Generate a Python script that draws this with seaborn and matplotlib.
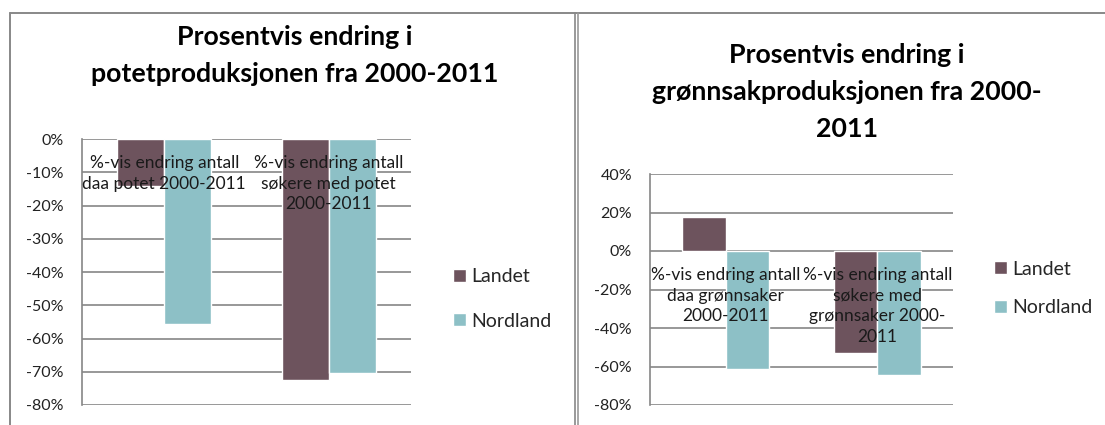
import matplotlib
matplotlib.use("Agg")
import matplotlib.pyplot as plt
import matplotlib.transforms as mtransforms
from matplotlib.lines import Line2D
from matplotlib.ticker import FuncFormatter
import pandas as pd
import seaborn as sns

# ---- data ----
series = ["Landet", "Nordland"]
pot_categories = ["%-vis endring antall\ndaa potet 2000-2011",
                  "%-vis endring antall\nsøkere med potet\n2000-2011"]
pot_landet = [-14, -72.5]
pot_nordland = [-55.5, -70.5]

gr_categories = ["%-vis endring antall\ndaa grønnsaker\n2000-2011",
                 "%-vis endring antall\nsøkere med\ngrønnsaker 2000-\n2011"]
gr_landet = [17.7, -52.8]
gr_nordland = [-61.5, -64.2]

pot_title = ["Prosentvis endring i", "potetproduksjonen fra 2000-2011"]
gr_title = ["Prosentvis endring i", "grønnsakproduksjonen fra 2000-", "2011"]

pot_ticks = [0, -10, -20, -30, -40, -50, -60, -70, -80]
gr_ticks = [40, 20, 0, -20, -40, -60, -80]

colors = ["#6D535D", "#8DC0C6"]

sns.set_theme(style="white")
plt.rcParams["font.family"] = ["Lato", "DejaVu Sans"]

W, H = 1105, 425
fig = plt.figure(figsize=(W / 100, H / 100), dpi=100)
fig.patch.set_facecolor("white")

GRID = "#868686"


def fx(px):
    return px / W


def fy(py):
    return 1 - py / H


def make_panel(rect, cats, landet, nordland, ticks, lims, title_lines, title_x,
               title_baselines, legend_xy, legend_spacing):
    ax = fig.add_axes(rect)
    df = pd.DataFrame({
        "cat": cats + cats,
        "val": landet + nordland,
        "series": [series[0]] * len(cats) + [series[1]] * len(cats),
    })
    sns.barplot(data=df, x="cat", y="val", hue="series", hue_order=series,
                order=cats, palette=colors, width=0.573, gap=0, ax=ax,
                saturation=1, errorbar=None, legend=True)
    ax.set_xlim(-0.5, len(cats) - 0.5)
    ax.set_ylim(*lims)
    ax.set_yticks(ticks)
    ax.yaxis.set_major_formatter(FuncFormatter(lambda v, p: f"{int(round(v))}%"))
    ax.set_xticks([])
    ax.set_xlabel("")
    ax.set_ylabel("")
    ax.set_axisbelow(True)
    ax.yaxis.grid(True, color=GRID, lw=1.2)
    ax.tick_params(axis="y", length=0, pad=13, labelsize=11.5, labelcolor="#222222")
    for s in ["right", "top", "bottom"]:
        ax.spines[s].set_visible(False)
    ax.spines["left"].set_color(GRID)
    ax.spines["left"].set_linewidth(1.2)
    ax.set_facecolor("none")
    # category labels placed just below the zero line
    off = mtransforms.ScaledTranslation(0, -0.16, fig.dpi_scale_trans)
    for i, c in enumerate(cats):
        ax.text(i, 0, c, ha="center", va="top", fontsize=12.5, color="#1a1a1a",
                linespacing=1.36, transform=ax.transData + off, zorder=5)
    # legend
    handles, labels = ax.get_legend_handles_labels()
    ax.get_legend().remove()
    ax.legend(handles, labels, loc="center left",
              bbox_to_anchor=(fx(legend_xy[0]), fy(legend_xy[1])),
              bbox_transform=fig.transFigure, frameon=False, fontsize=14,
              handlelength=0.65, handleheight=0.65, handletextpad=0.3,
              labelspacing=legend_spacing, borderaxespad=0, borderpad=0)
    # title lines
    for line, yb in zip(title_lines, title_baselines):
        fig.text(fx(title_x), fy(yb), line, ha="center", va="baseline",
                 fontsize=19.3, fontweight="bold", color="black")
    return ax


make_panel([fx(82), fy(405), fx(411) - fx(82), fy(139) - fy(405)],
           pot_categories, pot_landet, pot_nordland, pot_ticks, (-80, 0),
           pot_title, 295, [45, 82], (453, 299), 1.4)

make_panel([fx(650), fy(405), fx(953) - fx(650), fy(174) - fy(405)],
           gr_categories, gr_landet, gr_nordland, gr_ticks, (-80, 40),
           gr_title, 847, [63, 100, 137], (994, 288.5), 1.12)

# outer chart-frame borders
fig.add_artist(Line2D([fx(9.5), 1], [fy(13), fy(13)], color="#888888", lw=1.4))
fig.add_artist(Line2D([fx(9.5), fx(9.5)], [fy(13), 0], color="#888888", lw=1.4))
fig.add_artist(Line2D([fx(575), fx(575)], [fy(13), 0], color="#888888", lw=1.2))
fig.add_artist(Line2D([fx(577.5), fx(577.5)], [fy(13), 0], color="#999999", lw=1.2))

fig.savefig("out.png", dpi=100)
